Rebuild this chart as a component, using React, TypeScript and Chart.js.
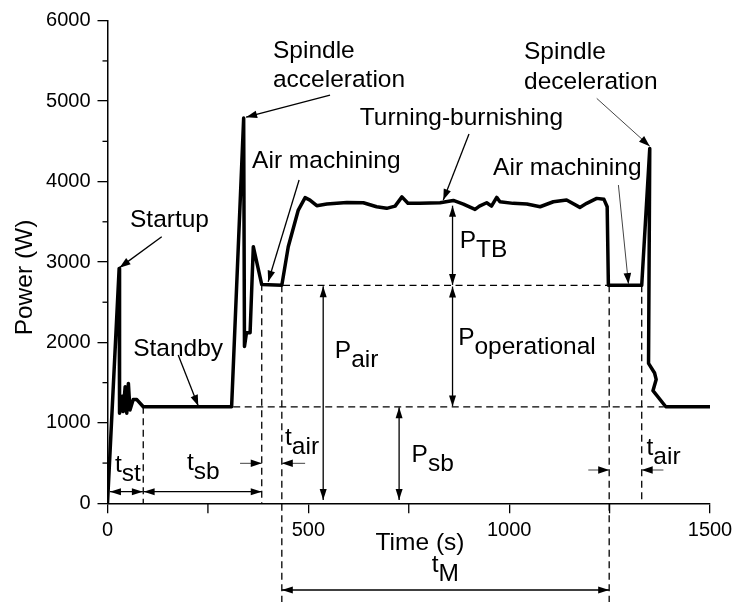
import { useEffect, useRef } from 'react';
import { Chart, registerables } from 'chart.js';

Chart.register(...registerables);

// ---- measured power profile ----
const timeS = [
  0, 29, 30, 37, 39, 44, 48, 52, 56, 64, 73, 89, 309,
  339, 341, 346, 355, 363, 384, 434,
  450, 475, 492, 504, 521, 546, 596, 637, 670, 695, 716, 733, 748, 778, 828, 861,
  886, 915, 926, 944, 956, 969, 977, 1010, 1044, 1077, 1110, 1143, 1176, 1193, 1218, 1236, 1244,
  1247, 1330, 1350, 1347, 1362, 1366, 1358, 1390, 1500,
];
const powerW = [
  0, 2920, 1120, 1330, 1140, 1450, 1120, 1490, 1160, 1290, 1290, 1200, 1200,
  4790, 1950, 2120, 2120, 3190, 2720, 2710,
  3190, 3646, 3800, 3770, 3700, 3720, 3740, 3737, 3687, 3667, 3695, 3810, 3730, 3729, 3737, 3765,
  3720, 3654, 3695, 3737, 3695, 3803, 3749, 3729, 3720, 3687, 3749, 3770, 3679, 3729, 3791, 3779, 3687,
  2710, 2710, 4410, 1740, 1620, 1540, 1400, 1200, 1200,
];

// ---- axes ----
const xTickValues = [0, 500, 1000, 1500];
const xMinorTicks = [250, 750, 1250];
const yTickValues = [0, 1000, 2000, 3000, 4000, 5000, 6000];
const yMinorTicks = [500, 1500, 2500, 3500, 4500, 5500];
const xTitle = 'Time (s)';
const yTitle = 'Power (W)';

// ---- reference levels ----
const standbyW = 1200;
const airW = 2710;

// dashed guides [x1, y1, x2, y2] (data units)
const dashedGuides = [
  [313, standbyW, 1385, standbyW],
  [437, airW, 1247, airW],
  [89, standbyW, 89, 0],
  [384, 2730, 384, 0],
  [434, airW, 434, -1300],
  [1249, airW, 1249, -1300],
  [1330, airW, 1330, 0],
];

// double-headed dimension arrows [x1, y1, x2, y2]
const dimArrows = [
  [6, 144, 88, 144],
  [90, 144, 384, 144],
  [537, 2700, 537, 40],
  [726, 1195, 726, 40],
  [859, 2695, 859, 1205],
  [859, 3700, 859, 2715],
  [434, -1078, 1249, -1078],
];

// single-headed pointer arrows [x1, y1, x2, y2, thin]
const pointerArrows = [
  [330, 497, 384, 497, 1],
  [492, 497, 434, 497, 1],
  [1197, 414, 1249, 414, 1],
  [1384, 414, 1330, 414, 1],
  [135, 3314, 30, 2930, 0],
  [176, 1843, 226, 1210, 0],
  [554, 5075, 345, 4800, 0],
  [477, 4019, 400, 2755, 0],
  [900, 4590, 836, 3770, 0],
  [1272, 3957, 1297, 2726, 1],
  [1218, 5034, 1350, 4440, 1],
];

// text labels [main, subscript, x, y]
const labels: [string, string, number, number][] = [
  ['Startup', '', 56, 3434],
  ['Standby', '', 64, 1831],
  ['Spindle', '', 412, 5535],
  ['acceleration', '', 412, 5175],
  ['Air machining', '', 360, 4168],
  ['Turning-burnishing', '', 628, 4702],
  ['Air machining', '', 960, 4081],
  ['Spindle', '', 1037, 5523],
  ['deceleration', '', 1037, 5150],
  ['P', 'air', 566, 1809],
  ['P', 'operational', 873, 1968],
  ['P', 'sb', 757, 517],
  ['P', 'TB', 877, 3173],
  ['t', 'st', 18.7, 389],
  ['t', 'sb', 198, 414],
  ['t', 'air', 442, 725],
  ['t', 'air', 1342, 600],
  ['t', 'M', 807, -850],
];

const FONT_FAMILY = '"Liberation Sans", Arial, sans-serif';
const TEXT_FONT = `24.5px ${FONT_FAMILY}`;

function drawHead(ctx: CanvasRenderingContext2D, fx: number, fy: number, tx: number, ty: number, len: number, half: number) {
  const a = Math.atan2(ty - fy, tx - fx);
  const c = Math.cos(a), s = Math.sin(a);
  ctx.beginPath();
  ctx.moveTo(tx, ty);
  ctx.lineTo(tx - len * c - half * s, ty - len * s + half * c);
  ctx.lineTo(tx - len * c + half * s, ty - len * s - half * c);
  ctx.closePath();
  ctx.fill();
}

const annotationPlugin = {
  id: 'annotations',
  afterDraw(chart: any) {
    const ctx: CanvasRenderingContext2D = chart.ctx;
    const xs = chart.scales.x;
    const ys = chart.scales.y;
    const X = (v: number) => xs.getPixelForValue(v);
    const Y = (v: number) => ys.getPixelForValue(v);
    ctx.save();

    // minor ticks
    ctx.strokeStyle = '#000';
    ctx.lineWidth = 1.3;
    ctx.setLineDash([]);
    for (const v of yMinorTicks) {
      ctx.beginPath();
      ctx.moveTo(X(0) - 5, Y(v));
      ctx.lineTo(X(0), Y(v));
      ctx.stroke();
    }
    for (const v of xMinorTicks) {
      ctx.beginPath();
      ctx.moveTo(X(v), Y(0));
      ctx.lineTo(X(v), Y(0) + 10);
      ctx.stroke();
    }

    // dashed guides
    ctx.setLineDash([7, 4.5]);
    ctx.lineWidth = 1.3;
    for (const [x1, y1, x2, y2] of dashedGuides) {
      ctx.beginPath();
      ctx.moveTo(X(x1), Y(y1));
      ctx.lineTo(X(x2), Y(y2));
      ctx.stroke();
    }
    ctx.setLineDash([]);

    // dimension arrows
    ctx.fillStyle = '#000';
    ctx.lineWidth = 1.3;
    for (const [x1, y1, x2, y2] of dimArrows) {
      const px1 = X(x1), py1 = Y(y1), px2 = X(x2), py2 = Y(y2);
      ctx.beginPath();
      ctx.moveTo(px1, py1);
      ctx.lineTo(px2, py2);
      ctx.stroke();
      drawHead(ctx, px1, py1, px2, py2, 11, 3.5);
      drawHead(ctx, px2, py2, px1, py1, 11, 3.5);
    }

    // pointer arrows
    for (const [x1, y1, x2, y2, thin] of pointerArrows) {
      const px1 = X(x1), py1 = Y(y1), px2 = X(x2), py2 = Y(y2);
      ctx.strokeStyle = thin ? '#444' : '#000';
      ctx.lineWidth = thin ? 1 : 1.3;
      ctx.beginPath();
      ctx.moveTo(px1, py1);
      ctx.lineTo(px2, py2);
      ctx.stroke();
      ctx.fillStyle = '#000';
      drawHead(ctx, px1, py1, px2, py2, 11, 3.8);
    }

    // labels
    ctx.fillStyle = '#000';
    ctx.font = TEXT_FONT;
    ctx.textAlign = 'left';
    ctx.textBaseline = 'alphabetic';
    for (const [main, sub, x, y] of labels) {
      const px = X(x), py = Y(y);
      ctx.fillText(main, px, py);
      if (sub) {
        const w = ctx.measureText(main).width;
        ctx.fillText(sub, px + w, py + 9);
      }
    }

    // axis titles
    ctx.textAlign = 'center';
    ctx.fillText(xTitle, X(778), Y(-580));
    ctx.save();
    ctx.translate(X(-188.7), Y(2807));
    ctx.rotate(-Math.PI / 2);
    ctx.fillText(yTitle, 0, 0);
    ctx.restore();

    ctx.restore();
  },
};

export default function App() {
  const canvasRef = useRef<HTMLCanvasElement | null>(null);

  useEffect(() => {
    document.body.style.margin = '0';
    const canvas = canvasRef.current;
    if (!canvas) return;
    const tickFont = { family: FONT_FAMILY, size: 20 };
    const chart = new Chart(canvas, {
      type: 'line',
      data: {
        datasets: [
          {
            data: timeS.map((t, i) => ({ x: t, y: powerW[i] })),
            borderColor: '#000',
            borderWidth: 3.5,
            pointRadius: 0,
            tension: 0,
            fill: false,
            borderJoinStyle: 'round',
          },
        ],
      },
      options: {
        animation: false,
        responsive: false,
        events: [],
        layout: { padding: { top: 20.7, right: 24, left: 0, bottom: 0 } },
        plugins: { legend: { display: false }, tooltip: { enabled: false } },
        scales: {
          x: {
            type: 'linear',
            min: 0,
            max: 1500,
            afterBuildTicks: (s: any) => {
              s.ticks = xTickValues.map((v) => ({ value: v }));
            },
            afterFit: (s: any) => {
              s.height = 98.7;
              s.paddingLeft = 0;
              s.paddingRight = 0;
            },
            ticks: {
              font: tickFont,
              color: '#000',
              padding: 5,
              maxRotation: 0,
              autoSkip: false,
              callback: (v: any) => String(v),
            },
            grid: {
              display: true,
              drawOnChartArea: false,
              drawTicks: true,
              tickLength: 10,
              color: '#000',
              lineWidth: 1.3,
            },
            border: { display: true, color: '#000', width: 1.5 },
          },
          y: {
            type: 'linear',
            min: 0,
            max: 6000,
            afterBuildTicks: (s: any) => {
              s.ticks = yTickValues.map((v) => ({ value: v }));
            },
            afterFit: (s: any) => {
              s.width = 107.5;
              s.paddingTop = 0;
              s.paddingBottom = 0;
            },
            ticks: {
              font: tickFont,
              color: '#000',
              padding: 7,
              autoSkip: false,
              callback: (v: any) => String(v),
            },
            grid: {
              display: true,
              drawOnChartArea: false,
              drawTicks: true,
              tickLength: 10,
              color: '#000',
              lineWidth: 1.3,
            },
            border: { display: true, color: '#000', width: 1.5 },
          },
        },
      },
      plugins: [annotationPlugin],
    } as any);
    return () => chart.destroy();
  }, []);

  return (
    <div style={{ position: 'absolute', left: 0, top: 0, width: 734, height: 602, background: '#fff' }}>
      <canvas ref={canvasRef} width={734} height={602} style={{ display: 'block' }} />
    </div>
  );
}
